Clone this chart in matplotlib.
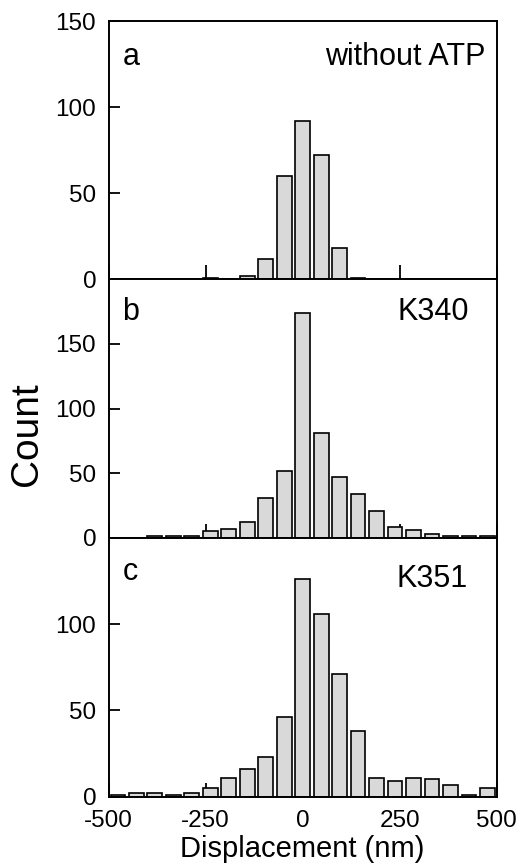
import numpy as np
import matplotlib
matplotlib.use("Agg")
import matplotlib.pyplot as plt

plt.rcParams['font.family'] = ['Liberation Sans', 'DejaVu Sans']
plt.rcParams['axes.unicode_minus'] = False

# 21 bins spanning -500..500 nm
bin_edges = np.linspace(-500, 500, 22)
counts_a = [0, 0, 0, 0, 0, 1, 0, 2, 12, 60, 92, 72, 18, 1, 0, 0, 0, 0, 0, 0, 0]
counts_b = [0, 0, 1, 1, 1, 5, 7, 12, 31, 52, 174, 81, 47, 34, 21, 8, 6, 3, 1, 1, 1]
counts_c = [1, 2, 2, 1, 2, 5, 11, 16, 23, 46, 126, 106, 71, 38, 11, 9, 11, 10, 7, 1, 5]
panel_letters = ['a', 'b', 'c']
panel_titles = ['without ATP', 'K340', 'K351']
ylims = [150, 200, 150]
yticks_list = [[0, 50, 100, 150], [0, 50, 100, 150], [0, 50, 100]]
xticks = [-500, -250, 0, 250, 500]
xlabel = 'Displacement (nm)'
ylabel = 'Count'

fig = plt.figure(figsize=(5.2, 8.68), dpi=100)
left, width = 0.209, 0.746
bottoms = [0.6782, 0.3805, 0.0821]
heights = [0.2972, 0.2977, 0.2984]
title_pos = [(0.97, 0.86), (0.93, 0.873), (0.925, 0.84)]
letter_pos = [(0.035, 0.86), (0.035, 0.873), (0.035, 0.867)]

centers = (bin_edges[:-1] + bin_edges[1:]) / 2
bw = (bin_edges[1] - bin_edges[0]) * 0.8
axes = []
for i, counts in enumerate([counts_a, counts_b, counts_c]):
    ax = fig.add_axes([left, bottoms[i], width, heights[i]])
    ax.bar(centers, counts, width=bw, color='#d9d9d9', edgecolor='black', linewidth=1.2, zorder=2)
    ax.set_xlim(-500, 500)
    ax.set_ylim(0, ylims[i])
    ax.set_yticks(yticks_list[i])
    ax.set_xticks(xticks)
    ax.tick_params(axis='y', direction='in', length=8, width=1.3, labelsize=17.5, pad=9)
    ax.tick_params(axis='x', direction='in', length=10, width=1.3, labelsize=17.5, pad=9.5)
    if i < 2:
        ax.tick_params(axis='x', labelbottom=False)
    else:
        ax.set_xlabel(xlabel, fontsize=21, labelpad=2)
    for s in ax.spines.values():
        s.set_linewidth(1.4)
    ax.text(*letter_pos[i], panel_letters[i], transform=ax.transAxes, fontsize=22,
            ha='left', va='center')
    ax.text(*title_pos[i], panel_titles[i], transform=ax.transAxes, fontsize=22,
            ha='right', va='center')
    axes.append(ax)

fig.text(0.052, 0.5, ylabel, rotation=90, fontsize=28, ha='center', va='center')

fig.savefig('out.png', dpi=100)
